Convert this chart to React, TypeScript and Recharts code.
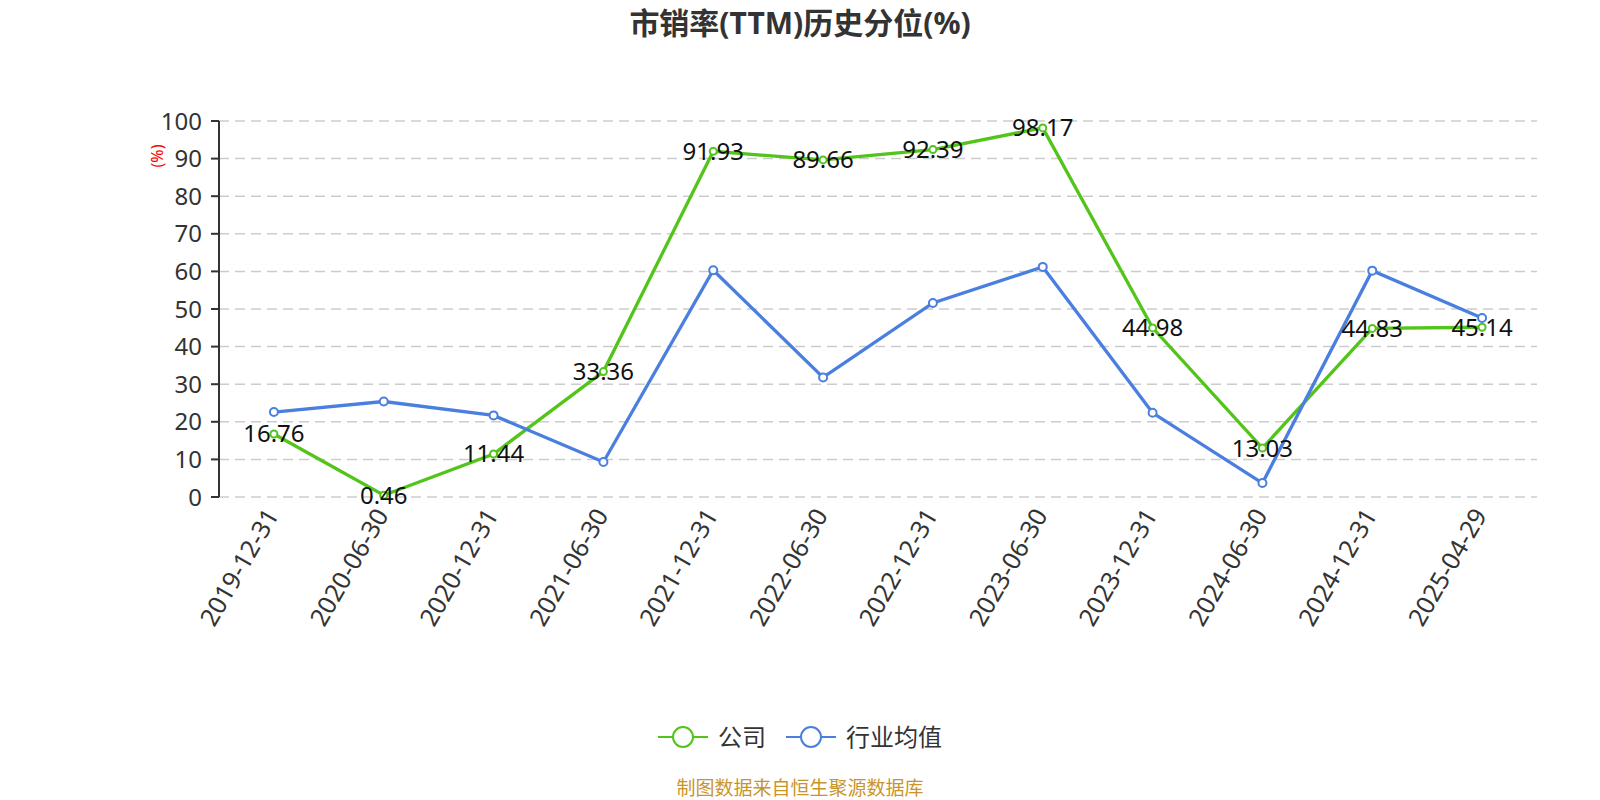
import React from 'react';
import {
  LineChart, Line, XAxis, YAxis, CartesianGrid, LabelList,
} from 'recharts';

const dates = [
  '2019-12-31', '2020-06-30', '2020-12-31', '2021-06-30', '2021-12-31', '2022-06-30',
  '2022-12-31', '2023-06-30', '2023-12-31', '2024-06-30', '2024-12-31', '2025-04-29',
];
const companyValues = [16.76, 0.46, 11.44, 33.36, 91.93, 89.66, 92.39, 98.17, 44.98, 13.03, 44.83, 45.14];
const industryValues = [22.6, 25.4, 21.7, 9.3, 60.3, 31.8, 51.6, 61.2, 22.4, 3.7, 60.2, 47.6];
const yTicks = [0, 10, 20, 30, 40, 50, 60, 70, 80, 90, 100];
const boundTicks = dates.map((_, i) => i).concat(dates.length);
const centerTicks = dates.map((_, i) => i + 0.5);

const GREEN = '#52c41a';
const BLUE = '#4a7fe0';
const FONT = '"Noto Sans", "Noto Sans CJK SC", sans-serif';

const data = dates.map((d, i) => ({
  pos: i + 0.5,
  date: d,
  company: companyValues[i],
  industry: industryValues[i],
}));

const DateTick = (props: any) => {
  const { x, y, payload } = props;
  const label = dates[Math.floor(payload.value)];
  return (
    <text
      x={x - 3}
      y={y + 3}
      transform={`rotate(-60, ${x - 3}, ${y + 3})`}
      textAnchor="end"
      dominantBaseline="central"
      fill="#333"
      fontSize={25}
      fontFamily={FONT}
    >
      {label}
    </text>
  );
};

const ValueLabel = (props: any) => {
  const { x, y, value } = props;
  return (
    <text
      x={x}
      y={y - 1}
      textAnchor="middle"
      dominantBaseline="central"
      fill="#111"
      fontSize={24}
      fontFamily={FONT}
    >
      {value}
    </text>
  );
};

const UnitLabel = (props: any) => {
  const { viewBox } = props;
  const cx = viewBox.x + 18;
  const cy = viewBox.y + 35;
  return (
    <text
      x={cx}
      y={cy}
      transform={`rotate(-90, ${cx}, ${cy})`}
      textAnchor="middle"
      dominantBaseline="central"
      fill="#ff0000"
      fontSize={16}
      fontFamily={FONT}
    >
      (%)
    </text>
  );
};

const LegendItem = ({ color, text, gap }: { color: string; text: string; gap: number }) => (
  <div style={{ display: 'flex', alignItems: 'center', marginRight: gap }}>
    <svg width={50} height={24}>
      <line x1={0} y1={12} x2={50} y2={12} stroke={color} strokeWidth={2} />
      <circle cx={25} cy={12} r={10} fill="#fff" stroke={color} strokeWidth={2} />
    </svg>
    <span style={{ marginLeft: 10, fontSize: 24, lineHeight: '24px', color: '#333' }}>{text}</span>
  </div>
);

export default function App() {
  return (
    <div style={{ position: 'absolute', left: 0, top: 0, width: 1600, height: 800, background: '#fff', fontFamily: FONT, overflow: 'hidden' }}>
      <div style={{ position: 'absolute', top: 5, left: 0, width: 1600, textAlign: 'center', fontSize: 30, lineHeight: '36px', fontWeight: 'bold', color: '#333' }}>
        市销率(TTM)历史分位(%)
      </div>
      <LineChart
        width={1600}
        height={800}
        data={data}
        margin={{ top: 121, right: 63, left: 139, bottom: 203 }}
      >
        <CartesianGrid horizontal vertical={false} stroke="#ccc" strokeDasharray="10 6" strokeWidth={1.5} />
        <XAxis
          xAxisId="bound"
          type="number"
          dataKey="pos"
          domain={[0, 12]}
          ticks={boundTicks}
          tick={false}
          tickSize={8}
          height={0}
          axisLine={{ stroke: '#333', strokeWidth: 2 }}
          tickLine={{ stroke: '#333', strokeWidth: 2 }}
        />
        <XAxis
          xAxisId="cat"
          type="number"
          dataKey="pos"
          domain={[0, 12]}
          ticks={centerTicks}
          interval={0}
          tick={<DateTick />}
          tickSize={0}
          tickMargin={10}
          height={100}
          axisLine={false}
          tickLine={false}
        />
        <YAxis
          type="number"
          domain={[0, 100]}
          ticks={yTicks}
          interval={0}
          width={80}
          tickSize={8}
          tickMargin={9}
          tick={{ fill: '#333', fontSize: 24, fontFamily: FONT }}
          axisLine={{ stroke: '#333', strokeWidth: 2 }}
          tickLine={{ stroke: '#333', strokeWidth: 2 }}
          label={<UnitLabel />}
        />
        <Line
          xAxisId="cat"
          type="linear"
          dataKey="company"
          stroke={GREEN}
          strokeWidth={3.3}
          dot={{ r: 3.5, fill: '#fff', stroke: GREEN, strokeWidth: 2 }}
          activeDot={false}
          isAnimationActive={false}
        >
          <LabelList dataKey="company" content={<ValueLabel />} />
        </Line>
        <Line
          xAxisId="cat"
          type="linear"
          dataKey="industry"
          stroke={BLUE}
          strokeWidth={3.3}
          dot={{ r: 4, fill: '#fff', stroke: BLUE, strokeWidth: 2 }}
          activeDot={false}
          isAnimationActive={false}
        />
      </LineChart>
      <div style={{ position: 'absolute', top: 725, left: 0, width: 1600, display: 'flex', justifyContent: 'center' }}>
        <LegendItem color={GREEN} text="公司" gap={20} />
        <LegendItem color={BLUE} text="行业均值" gap={0} />
      </div>
      <div style={{ position: 'absolute', top: 778, left: 0, width: 1600, textAlign: 'center', fontSize: 19, lineHeight: '20px', color: '#c9952b' }}>
        制图数据来自恒生聚源数据库
      </div>
    </div>
  );
}
